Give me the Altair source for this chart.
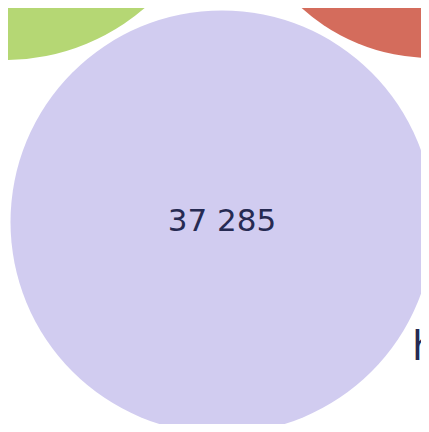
import math
import altair as alt
import pandas as pd

# Packed bubble data (layout positions in page pixels, values)
names = ["green", "red", "lavender"]
values = [38900, 31700, 37285]
pos_x = [4, 432, 222]
pos_y = [-156, -137, 222]
colors = ["#b5d774", "#d46c5c", "#d1ccf0"]

# partially visible outside label
side_label = ["h"]
side_x = [412]
side_y = [360]

df = pd.DataFrame({"name": names, "value": values, "x": pos_x, "y": pos_y})
df["label"] = [f"{v:,}".replace(",", " ") for v in values]
side_df = pd.DataFrame({"t": side_label, "x": side_x, "y": side_y})

W, H = 413, 416
xs = alt.Scale(domain=[8, 8 + W])
ys = alt.Scale(domain=[8, 8 + H], reverse=True)

base = alt.Chart(df)

# Vega circle symbol: radius = sqrt(size) / 2  ->  size = (2r)^2
circles = base.mark_circle(opacity=1, clip=True, strokeWidth=0).encode(
    x=alt.X("x:Q", scale=xs, axis=None),
    y=alt.Y("y:Q", scale=ys, axis=None),
    size=alt.Size("value:Q", scale=alt.Scale(domain=[0, 37285], range=[0, (2 * 211.5) ** 2]), legend=None),
    color=alt.Color("name:N", scale=alt.Scale(domain=names, range=colors), legend=None),
)

labels = base.transform_filter(alt.datum.name == "lavender").mark_text(
    font="DejaVu Sans", fontSize=31, fontWeight=400, color="#262a52", baseline="middle", align="center", clip=True
).encode(
    x=alt.X("x:Q", scale=xs),
    y=alt.Y("y:Q", scale=ys),
    text="label:N",
)

side = alt.Chart(side_df).mark_text(
    font="DejaVu Sans", fontSize=40, fontWeight=400, color="#262a52", baseline="alphabetic", align="left", clip=True
).encode(
    x=alt.X("x:Q", scale=xs),
    y=alt.Y("y:Q", scale=ys),
    text="t:N",
)

chart = alt.layer(circles, labels, side).properties(
    width=W, height=H, autosize=alt.AutoSizeParams(type="none"), padding=0
).configure_view(stroke=None)

chart.save("out.html", embed_options={"renderer": "svg", "actions": False})
